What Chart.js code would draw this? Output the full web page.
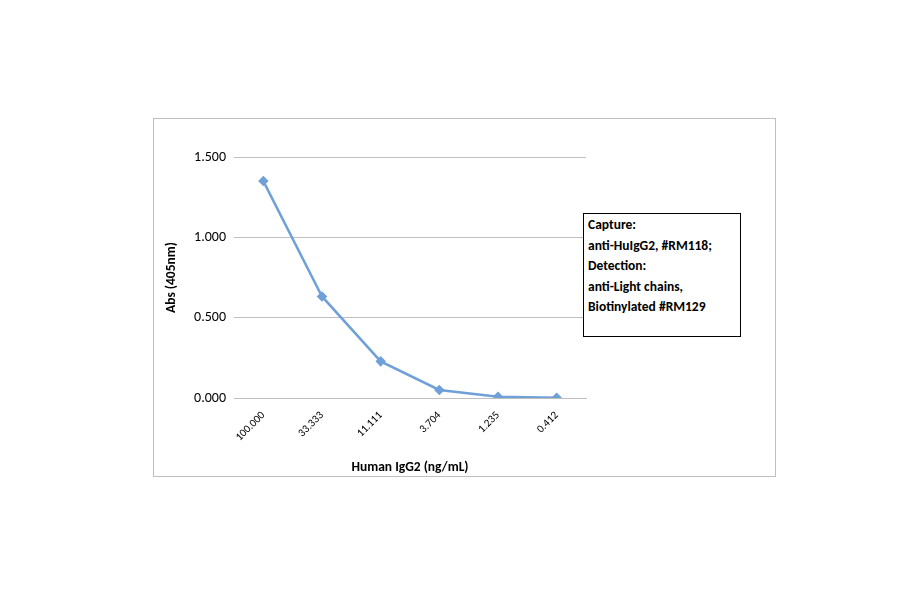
<!DOCTYPE html>
<html><head><meta charset="utf-8">
<script src="https://cdn.jsdelivr.net/npm/chart.js@4"></script>
<style>
body{margin:0;background:#fff;width:900px;height:594px;position:relative;overflow:hidden;font-family:Calibri,"Liberation Sans",Arial,sans-serif}
#frame{position:absolute;left:153px;top:118px;width:621px;height:357px;border:1px solid #bfbfbf}
#c{position:absolute;left:0;top:0}
#leg{position:absolute;left:583px;top:213px;width:158px;height:124px;border:1px solid #000;background:#fff;font-weight:bold;font-size:13.5px;line-height:20.5px;padding:1px 0 0 4px;box-sizing:border-box;color:#000}
</style></head><body>
<div id="frame"></div>
<canvas id="c" width="900" height="594"></canvas>
<div id="leg">Capture:<br>anti-HuIgG2, #RM118;<br>Detection:<br>anti-Light chains,<br>Biotinylated #RM129</div>
<script>
const categories=["100.000","33.333","11.111","3.704","1.235","0.412"];
const absValues=[1.350,0.632,0.228,0.050,0.008,0.002];
const yTicks=[0,0.5,1.0,1.5];
new Chart(document.getElementById('c'),{
type:'line',
data:{labels:categories,datasets:[{data:absValues,borderColor:'#6fa0d8',backgroundColor:'#6fa0d8',borderWidth:2.5,pointStyle:'rectRot',pointRadius:3.5,tension:0}]},
options:{responsive:false,animation:false,
layout:{padding:{left:160,right:314,top:157,bottom:114}},
plugins:{legend:{display:false},tooltip:{enabled:false}},
scales:{
x:{offset:true,grid:{display:false},border:{color:'#bfbfbf'},
 ticks:{color:'#000',font:{size:11,family:'Calibri, Liberation Sans, Arial'},maxRotation:45,minRotation:45},
 title:{display:true,text:'Human IgG2 (ng/mL)',color:'#000',font:{size:13.5,weight:'bold',family:'Calibri, Liberation Sans, Arial'},padding:{top:2}},
 afterFit:s=>{s.height=82;}},
y:{min:0,max:1.5,afterBuildTicks:s=>{s.ticks=yTicks.map(v=>({value:v}));},
 grid:{color:'#bfbfbf',drawTicks:false},border:{display:false},
 ticks:{color:'#000',padding:8,font:{size:14,family:'Calibri, Liberation Sans, Arial'},callback:v=>v.toFixed(3)},
 title:{display:true,text:'Abs (405nm)',color:'#000',font:{size:13.5,weight:'bold',family:'Calibri, Liberation Sans, Arial'}},
 afterFit:s=>{s.width=74;}}
}}});
</script></body></html>
